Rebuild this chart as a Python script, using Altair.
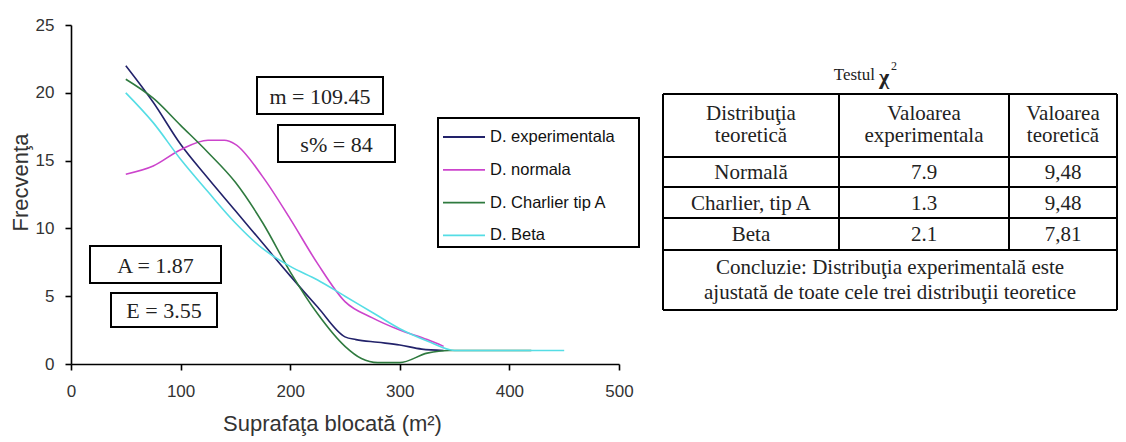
import altair as alt
import pandas as pd

# ---------------- data ----------------
SERIES = ["D. experimentala", "D. normala", "D. Charlier tip A", "D. Beta"]
COLORS = ["#22226a", "#cc44cc", "#2f7a3f", "#55dde5"]

X_EXP = [50, 75, 100, 125, 150, 175, 200, 225, 250, 260, 280, 300, 320, 340]
Y_EXP = [22.0, 19.3, 16.2, 13.7, 11.3, 8.9, 6.5, 4.2, 2.0, 1.8, 1.6, 1.4, 1.1, 1.0]

X_NORM = [50, 75, 100, 125, 140, 150, 175, 200, 225, 250, 275, 300, 325, 340]
Y_NORM = [14.0, 14.6, 15.8, 16.5, 16.5, 16.2, 13.8, 10.7, 7.4, 4.6, 3.4, 2.5, 1.8, 1.3]

X_CH = [50, 75, 100, 125, 150, 175, 200, 225, 250, 265, 280, 300, 325, 345, 380, 420]
Y_CH = [21.0, 19.6, 17.6, 15.6, 13.4, 10.4, 6.8, 3.7, 1.3, 0.4, 0.1, 0.1, 0.8, 1.0, 1.0, 1.0]

X_BETA = [50, 75, 100, 125, 150, 175, 200, 225, 250, 275, 300, 325, 350, 400, 450]
Y_BETA = [20.0, 17.8, 15.1, 12.7, 10.4, 8.5, 7.2, 6.2, 5.0, 3.8, 2.6, 1.7, 1.0, 1.0, 1.0]

X_TICKS = [0, 100, 200, 300, 400, 500]
Y_TICKS = [0, 5, 10, 15, 20, 25]

ANNOTATIONS = ["m = 109.45", "s% = 84", "A = 1.87", "E = 3.55"]

TABLE_TITLE = ["Testul", "χ", "2"]
TABLE_HEADER = [["Distribuţia", "teoretică"], ["Valoarea", "experimentala"], ["Valoarea", "teoretică"]]
DISTRIBUTIONS = ["Normală", "Charlier, tip A", "Beta"]
CHI_EXP = ["7.9", "1.3", "2.1"]
CHI_TEOR = ["9,48", "9,48", "7,81"]
CONCLUSION = ["Concluzie: Distribuţia experimentală este",
              "ajustată de toate cele trei distribuţii teoretice"]

# ---------------- layout (pixels relative to plot origin) ----------------
W, H = 548, 339
PAD = {"left": 63, "top": 17, "right": 499, "bottom": 76}

SERIF = "Liberation Serif"
SANS = "Liberation Sans"
INK = "#222222"

rows = []
for name, xs, ys in zip(SERIES, [X_EXP, X_NORM, X_CH, X_BETA], [Y_EXP, Y_NORM, Y_CH, Y_BETA]):
    for i, (x, y) in enumerate(zip(xs, ys)):
        rows.append({"series": name, "x": x, "y": y, "idx": i})
df = pd.DataFrame(rows)

color_scale = alt.Scale(domain=SERIES, range=COLORS)

lines = alt.Chart(df).mark_line(strokeWidth=1.6, interpolate="monotone").encode(
    x=alt.X("x:Q", scale=alt.Scale(domain=[0, 500], nice=False),
            axis=alt.Axis(values=X_TICKS, title="Suprafaţa blocată (m²)",
                          labelPadding=13, titleX=261, titleY=59,
                          titleAlign="center", titleBaseline="middle")),
    y=alt.Y("y:Q", scale=alt.Scale(domain=[0, 25], nice=False),
            axis=alt.Axis(values=Y_TICKS, title="Frecvenţa",
                          labelPadding=11, titleX=-51, titleY=157, titleAngle=270,
                          titleAlign="center", titleBaseline="middle")),
    color=alt.Color("series:N", scale=color_scale, legend=None),
    order="idx:Q",
)

layers = [lines]

# annotation boxes
BOXES = [(186, 312, 52, 89), (207, 324, 100, 137), (19, 150, 221, 258), (40, 146, 268, 302)]
for txt, (x0, x1, y0, y1) in zip(ANNOTATIONS, BOXES):
    layers.append(alt.Chart(df.head(1)).mark_rect(fill="white", stroke="black", strokeWidth=2).encode(
        x=alt.value(x0), x2=alt.value(x1), y=alt.value(y0), y2=alt.value(y1)))
    layers.append(alt.Chart(df.head(1)).mark_text(font=SERIF, fontSize=22, color=INK,
                                                  align="center", baseline="middle").encode(
        x=alt.value((x0 + x1) / 2), y=alt.value((y0 + y1) / 2 + 1), text=alt.value(txt)))

# legend
LEG = (367, 568, 93, 222)
layers.append(alt.Chart(df.head(1)).mark_rect(fill="white", stroke="black", strokeWidth=2).encode(
    x=alt.value(LEG[0]), x2=alt.value(LEG[1]), y=alt.value(LEG[2]), y2=alt.value(LEG[3])))
leg_df = pd.DataFrame({"series": SERIES, "ly": [112 + i * 32.8 for i in range(len(SERIES))]})
layers.append(alt.Chart(leg_df).mark_rule(strokeWidth=1.8).encode(
    x=alt.value(372), x2=alt.value(414), y=alt.Y("ly:Q", scale=None),
    color=alt.Color("series:N", scale=color_scale, legend=None)))
layers.append(alt.Chart(leg_df).mark_text(font=SANS, fontSize=16.5, color="#111", align="left",
                                          baseline="middle").encode(
    x=alt.value(419), y=alt.Y("ly:Q", scale=None), text="series:N"))

# table
COL_EDGES = [592, 768, 938, 1046]
ROW_EDGES = [69, 132, 162, 193, 225, 285]
col_c = [(COL_EDGES[i] + COL_EDGES[i + 1]) / 2 for i in range(3)]
trows = []
for c, (l1, l2) in enumerate(TABLE_HEADER):
    trows.append({"t": l1, "tx": col_c[c], "ty": 89})
    trows.append({"t": l2, "tx": col_c[c], "ty": 111})
for r, (d, e, t) in enumerate(zip(DISTRIBUTIONS, CHI_EXP, CHI_TEOR)):
    yc = (ROW_EDGES[r + 1] + ROW_EDGES[r + 2]) / 2 + 1
    for c, v in enumerate([d, e, t]):
        trows.append({"t": v, "tx": col_c[c], "ty": yc})
for k, line in enumerate(CONCLUSION):
    trows.append({"t": line, "tx": (COL_EDGES[0] + COL_EDGES[-1]) / 2, "ty": 243 + k * 25})
tdf = pd.DataFrame(trows)
layers.append(alt.Chart(tdf).mark_text(font=SERIF, fontSize=21, color=INK, align="center",
                                       baseline="middle").encode(
    x=alt.X("tx:Q", scale=None), y=alt.Y("ty:Q", scale=None), text="t:N"))

# table grid
grid = []
for y in ROW_EDGES:
    grid.append({"gx": COL_EDGES[0], "gx2": COL_EDGES[-1], "gy": y, "gy2": y})
for x in COL_EDGES:
    yb = ROW_EDGES[-1] if x in (COL_EDGES[0], COL_EDGES[-1]) else ROW_EDGES[-2]
    grid.append({"gx": x, "gx2": x, "gy": ROW_EDGES[0], "gy2": yb})
gdf = pd.DataFrame(grid)
layers.append(alt.Chart(gdf).mark_rule(color="black", strokeWidth=2).encode(
    x=alt.X("gx:Q", scale=None), x2="gx2:Q", y=alt.Y("gy:Q", scale=None), y2="gy2:Q"))

# table title
layers.append(alt.Chart(df.head(1)).mark_text(font=SERIF, fontSize=17, color=INK, align="right",
                                              baseline="middle").encode(
    x=alt.value(804), y=alt.value(50), text=alt.value(TABLE_TITLE[0])))
layers.append(alt.Chart(df.head(1)).mark_text(font=SERIF, fontSize=22, fontWeight="bold", color=INK,
                                              align="left", baseline="middle").encode(
    x=alt.value(808), y=alt.value(52), text=alt.value(TABLE_TITLE[1])))
layers.append(alt.Chart(df.head(1)).mark_text(font=SERIF, fontSize=12, color=INK, align="left",
                                              baseline="middle").encode(
    x=alt.value(820), y=alt.value(41), text=alt.value(TABLE_TITLE[2])))

chart = alt.layer(*layers).properties(
    width=W, height=H, autosize=alt.AutoSizeParams(type="none"), padding=PAD, background="white"
).configure_view(stroke=None).configure_axis(
    grid=False, domainColor="black", domainWidth=1.6, tickColor="black", tickWidth=1.6, tickSize=6,
    labelFont=SANS, labelFontSize=17, labelColor="#333", labelFlush=False, labelOverlap=False,
    titleFont=SANS, titleFontSize=22, titleFontWeight="normal", titleColor="#333"
)

chart.save("out.html", embed_options={"renderer": "svg", "actions": False})
